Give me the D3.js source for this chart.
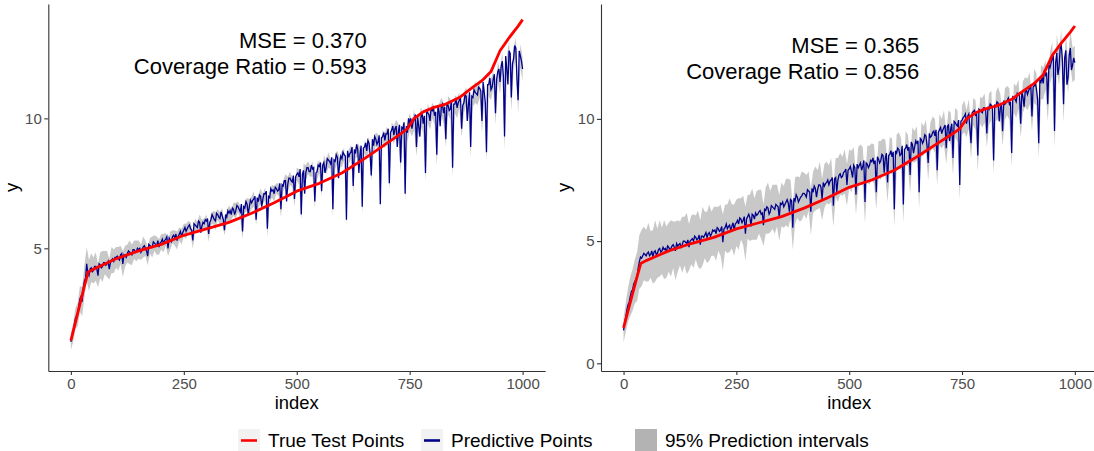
<!DOCTYPE html>
<html>

<head>
  <title>Prediction intervals</title>
  <script src="https://cdn.jsdelivr.net/npm/d3@7"></script>
  <style type="text/css">
    body {
      margin: 0;
      background: #fff;
    }

    svg {
      font-family: "Liberation Sans", Arial, sans-serif;
    }

    .tick text {
      fill: #4d4d4d;
      font-size: 15px;
    }

    .tick line,
    .domain {
      stroke: #333;
      stroke-width: 1.1px;
    }
  </style>
</head>

<body>
  <div id="chartArea"></div>
  <script type="text/javascript">
    // x positions: predictions every 2.5, interval half widths every 5
    let predIndex = d3.range(0, 1000.1, 2.5);
    let bandIndex = d3.range(0, 1001, 5);

    // true test points (same in both panels)
    let trueIdx = [0, 10, 20, 30, 38, 50, 75, 100, 150, 200, 250, 300, 350, 400, 450, 500, 550, 600, 650, 700,
      730, 745, 760, 780, 800, 830, 860, 875, 890, 910, 930, 950, 970, 990, 1000];
    let trueVal = [1.45, 2.15, 2.85, 3.55, 4.08, 4.2, 4.4, 4.6, 4.9, 5.15, 5.5, 5.75, 6.0, 6.35, 6.75, 7.2, 7.5, 7.9, 8.45, 9.05,
      9.4, 9.6, 10.0, 10.25, 10.4, 10.55, 10.8, 11.0, 11.2, 11.45, 11.8, 12.6, 13.1, 13.55, 13.8];

    // left panel predictions (one row = 50 index units)
    let predLeft = [1.4, 1.65, 1.75, 2.05, 2.3, 2.4, 2.45, 2.8, 3.05, 3.15, 2.95, 3.5, 3.75, 3.85, 4.4, 4.05, 3.95, 4.2, 4.25, 4.1,
      4.15, 4.3, 4.3, 4.2, 3.95, 4.4, 4.35, 4.25, 4.3, 4.45, 4.45, 4.35, 4.4, 4.5, 4.2, 4.45, 4.55, 4.6, 4.5, 4.65,
      4.65, 4.7, 4.6, 4.55, 4.75, 4.8, 4.4, 4.75, 4.7, 4.65, 4.8, 4.9, 4.85, 4.8, 4.75, 4.95, 4.95, 4.85, 4.9, 5.0,
      4.95, 5.0, 4.85, 4.95, 5.05, 5.1, 5.0, 4.9, 4.7, 5.15, 5.1, 5.05, 5.05, 5.25, 5.2, 5.15, 5.1, 5.3, 5.05, 5.2,
      5.25, 5.35, 5.2, 5.3, 5.35, 5.45, 5.0, 5.4, 5.3, 5.25, 5.45, 5.5, 5.4, 5.55, 5.3, 5.45, 5.55, 5.65, 5.45, 5.6,
      5.7, 5.8, 5.65, 5.75, 5.85, 5.9, 5.75, 5.7, 5.3, 5.95, 5.9, 5.85, 5.8, 6.05, 6.0, 5.6, 5.85, 6.0, 5.95, 6.1,
      6.05, 6.15, 5.55, 6.0, 6.1, 6.3, 6.2, 6.1, 6.05, 6.35, 6.3, 6.2, 6.15, 6.4, 6.25, 6.1, 5.7, 6.3, 6.2, 6.45,
      6.35, 6.45, 6.3, 6.55, 6.5, 6.3, 6.45, 6.65, 6.6, 6.5, 6.4, 6.7, 5.65, 6.6, 6.55, 6.8, 6.7, 6.3, 6.6, 6.85,
      6.75, 6.85, 6.9, 7.0, 6.1, 6.95, 6.8, 7.05, 7.0, 6.6, 6.9, 7.1, 7.1, 7.2, 5.75, 7.0, 6.95, 7.3, 7.2, 7.25,
      7.1, 7.35, 7.3, 7.2, 7.25, 7.5, 6.5, 7.45, 7.4, 7.6, 7.6, 6.8, 7.45, 7.7, 7.7, 7.6, 7.55, 7.8, 6.9, 7.75,
      7.85, 7.9, 7.75, 8.05, 6.3, 7.85, 8.0, 7.1, 7.9, 8.1, 8.1, 7.95, 7.95, 8.2, 8.05, 8.1, 6.8, 7.9, 7.95, 8.2,
      8.15, 8.3, 7.2, 8.2, 8.3, 7.9, 8.1, 8.45, 8.4, 8.35, 8.25, 8.5, 6.5, 8.4, 8.35, 8.6, 8.5, 7.7, 8.3, 8.55,
      8.45, 8.7, 8.6, 8.55, 6.1, 8.75, 8.5, 8.65, 8.7, 8.9, 7.4, 8.8, 8.65, 9.0, 8.8, 7.9, 8.6, 8.95, 6.6, 8.85,
      8.9, 9.05, 8.75, 9.15, 9.05, 8.6, 7.8, 9.2, 8.95, 9.3, 9.2, 9.0, 9.1, 9.35, 6.7, 9.25, 9.3, 9.45, 9.15, 9.4,
      9.4, 9.6, 7.5, 9.45, 9.55, 9.7, 9.35, 9.6, 9.7, 8.9, 9.5, 9.75, 8.3, 9.65, 9.6, 9.85, 7.1, 9.7, 9.45, 10.0,
      9.85, 10.0, 9.6, 9.85, 9.95, 10.15, 8.9, 10.05, 9.7, 9.3, 10.05, 10.2, 9.8, 10.1, 7.9, 10.3, 10.2, 10.15, 9.9, 10.4,
      10.3, 10.4, 10.1, 10.25, 8.6, 10.5, 10.25, 9.7, 10.45, 10.55, 10.2, 10.45, 9.2, 10.6, 10.5, 10.3, 10.35, 10.7, 8.1, 10.55,
      10.55, 10.75, 10.4, 10.6, 10.7, 10.8, 9.6, 10.5, 10.6, 10.9, 10.85, 9.9, 10.5, 11.0, 8.9, 10.85, 10.8, 11.1, 11.0, 10.95,
      10.9, 11.2, 11.15, 11.05, 9.9, 11.4, 11.0, 10.6, 8.7, 11.3, 11.3, 11.55, 11.1, 11.2, 11.5, 11.7, 10.2, 11.5, 11.8, 11.9,
      11.4, 12.0, 12.2, 11.6, 9.3, 12.4, 11.9, 11.3, 12.6, 12.5, 10.8, 12.1, 12.3, 12.8, 12.7, 11.5, 10.7, 12.6, 12.4, 12.2,
      11.9];
    let hwLeft = [0.3, 0.35, 0.4, 0.45, 0.5, 0.55, 0.6, 0.65, 0.6, 0.55,
      0.5, 0.55, 0.45, 0.5, 0.6, 0.45, 0.5, 0.4, 0.5, 0.45,
      0.4, 0.45, 0.35, 0.5, 0.4, 0.35, 0.45, 0.4, 0.35, 0.4,
      0.35, 0.3, 0.4, 0.3, 0.35, 0.3, 0.4, 0.3, 0.35, 0.3,
      0.3, 0.35, 0.25, 0.3, 0.35, 0.25, 0.3, 0.35, 0.25, 0.3,
      0.25, 0.3, 0.2, 0.25, 0.3, 0.25, 0.2, 0.3, 0.25, 0.2,
      0.25, 0.3, 0.2, 0.25, 0.35, 0.2, 0.25, 0.3, 0.2, 0.25,
      0.3, 0.2, 0.25, 0.3, 0.2, 0.25, 0.3, 0.2, 0.25, 0.3,
      0.25, 0.3, 0.2, 0.25, 0.3, 0.2, 0.25, 0.3, 0.2, 0.25,
      0.3, 0.2, 0.25, 0.3, 0.2, 0.25, 0.3, 0.25, 0.2, 0.3,
      0.25, 0.3, 0.2, 0.25, 0.3, 0.25, 0.2, 0.3, 0.25, 0.3,
      0.25, 0.2, 0.3, 0.25, 0.3, 0.2, 0.25, 0.3, 0.25, 0.2,
      0.3, 0.25, 0.2, 0.3, 0.25, 0.3, 0.2, 0.25, 0.3, 0.25,
      0.25, 0.3, 0.25, 0.2, 0.3, 0.25, 0.3, 0.2, 0.25, 0.3,
      0.3, 0.25, 0.3, 0.35, 0.25, 0.3, 0.35, 0.3, 0.25, 0.35,
      0.35, 0.3, 0.4, 0.35, 0.3, 0.4, 0.35, 0.3, 0.4, 0.35,
      0.3, 0.35, 0.4, 0.3, 0.35, 0.4, 0.3, 0.35, 0.4, 0.35,
      0.35, 0.4, 0.3, 0.35, 0.4, 0.35, 0.3, 0.4, 0.35, 0.4,
      0.4, 0.35, 0.45, 0.4, 0.35, 0.45, 0.4, 0.35, 0.45, 0.4,
      0.45, 0.4, 0.5, 0.45, 0.4, 0.5, 0.45, 0.4, 0.5, 0.45,
      0.45];

    // right panel predictions (one row = 50 index units)
    let predRight = [1.35, 1.7, 1.9, 2.2, 2.4, 2.5, 2.75, 2.95, 3.0, 3.25, 3.35, 3.45, 3.55, 3.9, 4.15, 4.35, 4.3, 4.4, 4.5, 4.45,
      4.4, 4.5, 4.55, 4.4, 4.45, 4.6, 4.35, 4.55, 4.6, 4.45, 4.5, 4.65, 4.7, 4.55, 4.6, 4.75, 4.65, 4.7, 4.55, 4.8,
      4.75, 4.65, 4.7, 4.8, 4.85, 4.75, 4.6, 4.9, 4.8, 4.85, 4.9, 4.75, 4.85, 5.0, 5.0, 4.95, 4.9, 5.05, 4.75, 5.0,
      5.05, 5.1, 5.0, 5.2, 5.15, 5.05, 5.1, 5.25, 4.85, 5.2, 5.2, 5.15, 5.25, 5.35, 5.15, 5.3, 5.35, 5.2, 5.3, 5.45,
      5.4, 5.45, 5.3, 5.55, 5.5, 5.4, 5.45, 5.6, 4.95, 5.5, 5.55, 5.7, 5.5, 5.6, 5.65, 5.45, 5.6, 5.75, 5.45, 5.7,
      5.75, 5.85, 5.7, 5.95, 5.9, 5.75, 5.85, 6.0, 5.3, 5.9, 6.0, 6.1, 5.95, 5.6, 6.1, 6.05, 5.9, 6.15, 6.05, 6.1,
      6.2, 6.25, 6.1, 6.15, 5.65, 6.3, 6.25, 6.4, 6.35, 6.1, 6.2, 6.45, 6.4, 6.35, 6.3, 6.5, 6.45, 6.4, 5.95, 6.55,
      6.5, 6.6, 6.4, 6.5, 6.6, 6.7, 6.55, 6.2, 6.7, 6.65, 5.55, 6.75, 6.65, 6.9, 6.8, 6.6, 6.7, 6.8, 6.85, 6.95,
      6.95, 6.9, 6.8, 7.1, 7.05, 7.0, 6.2, 7.15, 7.0, 7.25, 7.15, 6.8, 7.1, 7.3, 7.3, 7.2, 6.7, 7.4, 7.25, 7.35,
      7.4, 7.5, 7.3, 7.45, 7.5, 7.6, 6.45, 7.55, 7.6, 7.0, 7.5, 7.7, 7.75, 7.6, 7.65, 7.8, 7.85, 7.95, 7.3, 7.9,
      7.95, 8.05, 7.85, 7.6, 8.1, 8.0, 6.9, 8.15, 8.0, 8.1, 8.2, 7.9, 8.05, 8.3, 6.6, 8.2, 8.15, 8.0, 8.1, 8.3,
      8.25, 8.4, 8.15, 8.3, 7.0, 8.45, 8.35, 8.2, 8.3, 8.55, 8.5, 7.8, 8.4, 8.6, 7.4, 8.5, 8.55, 8.7, 8.45, 8.65,
      6.3, 8.7, 8.6, 8.8, 8.75, 8.5, 8.55, 8.9, 6.5, 8.75, 8.8, 8.95, 8.7, 8.85, 7.7, 9.05, 8.95, 8.6, 8.85, 9.1,
      9.0, 9.1, 7.0, 9.2, 9.15, 9.0, 9.1, 9.35, 9.3, 8.9, 8.2, 9.4, 9.25, 9.3, 9.45, 9.5, 9.3, 9.55, 7.9, 9.45,
      9.55, 9.65, 9.4, 9.55, 9.65, 9.75, 8.8, 9.7, 9.75, 9.1, 9.6, 9.8, 8.4, 9.9, 9.85, 9.75, 9.7, 9.95, 7.3, 9.9,
      9.95, 10.05, 10.1, 10.2, 9.8, 10.1, 10.2, 9.6, 9.0, 10.25, 10.3, 10.35, 10.15, 10.2, 8.5, 10.4, 10.35, 10.3, 10.25, 10.45,
      10.45, 10.35, 9.4, 10.5, 10.4, 10.6, 10.55, 10.4, 8.3, 10.55, 10.5, 10.7, 10.65, 9.9, 10.45, 10.6, 9.5, 10.75, 10.6, 10.65,
      10.75, 10.85, 10.6, 10.7, 8.6, 10.9, 10.85, 10.8, 10.7, 11.05, 11.0, 10.95, 9.8, 11.1, 10.9, 10.5, 11.1, 11.2, 11.0, 11.15,
      11.25, 11.4, 10.1, 11.3, 11.35, 11.5, 11.2, 10.8, 9.0, 11.6, 11.5, 11.7, 11.45, 12.0, 11.8, 11.9, 10.6, 12.2, 12.1, 12.3,
      12.45, 12.6, 9.5, 12.3, 12.7, 11.8, 12.1, 12.9, 13.0, 12.4, 10.6, 12.5, 12.8, 11.4, 11.7, 12.6, 12.9, 12.0, 12.2, 12.5,
      12.3];
    let hwRight = [0.5, 0.6, 0.7, 0.8, 0.85, 0.9, 1.0, 1.1, 1.15, 1.1,
      1.05, 1.2, 0.95, 1.1, 1.25, 1.0, 1.15, 0.95, 1.2, 1.05,
      1.0, 1.15, 0.95, 1.2, 1.05, 0.9, 1.15, 1.0, 1.25, 0.95,
      1.0, 1.1, 0.9, 1.15, 1.0, 1.2, 0.95, 1.05, 1.15, 0.9,
      1.0, 1.1, 0.9, 1.05, 1.15, 0.95, 1.0, 1.1, 0.9, 1.05,
      0.95, 1.05, 0.85, 1.0, 1.1, 0.9, 0.95, 1.05, 0.85, 1.0,
      0.9, 1.0, 0.85, 0.95, 1.05, 0.85, 0.9, 1.0, 0.85, 0.95,
      0.9, 0.85, 0.95, 1.0, 0.8, 0.9, 0.95, 0.85, 0.9, 1.0,
      0.85, 0.9, 0.8, 0.95, 0.85, 0.9, 0.8, 0.95, 0.85, 0.9,
      0.85, 0.8, 0.9, 0.85, 0.8, 0.9, 0.85, 0.8, 0.9, 0.85,
      0.8, 0.85, 0.75, 0.8, 0.85, 0.75, 0.8, 0.85, 0.75, 0.8,
      0.75, 0.8, 0.7, 0.75, 0.8, 0.7, 0.75, 0.8, 0.7, 0.75,
      0.7, 0.75, 0.7, 0.65, 0.75, 0.7, 0.65, 0.75, 0.7, 0.65,
      0.7, 0.65, 0.7, 0.6, 0.65, 0.7, 0.6, 0.65, 0.7, 0.6,
      0.65, 0.6, 0.7, 0.65, 0.6, 0.65, 0.7, 0.6, 0.65, 0.6,
      0.6, 0.65, 0.55, 0.6, 0.65, 0.55, 0.6, 0.65, 0.55, 0.6,
      0.6, 0.55, 0.65, 0.6, 0.55, 0.6, 0.65, 0.55, 0.6, 0.65,
      0.6, 0.65, 0.55, 0.6, 0.65, 0.6, 0.55, 0.65, 0.6, 0.65,
      0.65, 0.6, 0.7, 0.65, 0.6, 0.7, 0.65, 0.6, 0.7, 0.65,
      0.7, 0.65, 0.75, 0.7, 0.65, 0.75, 0.7, 0.65, 0.75, 0.7,
      0.7];

    let xTicks = [0, 250, 500, 750, 1000];
    let yTicksLeft = [5, 10];
    let yTicksRight = [0, 5, 10];
    let mseLabels = ['MSE = 0.370', 'MSE = 0.365'];
    let coverageLabels = ['Coverage Ratio = 0.593', 'Coverage Ratio = 0.856'];
    let legendLabels = ['True Test Points', 'Predictive Points', '95% Prediction intervals'];

    let w = 1094;
    let h = 451;
    let plotTop = 4;
    let plotBottom = 371;

    let svg = d3.select('#chartArea').append('svg')
      .attr('width', w)
      .attr('height', h);

    let panels = [
      { left: 48.3, right: 545.2, yDomain: [0.28, 14.4], yTicks: yTicksLeft, pred: predLeft, hw: hwLeft, yLabelX: 17.5 },
      { left: 601, right: 1097.4, yDomain: [-0.315, 14.7], yTicks: yTicksRight, pred: predRight, hw: hwRight, yLabelX: 570 }
    ];

    panels.forEach((p, k) => {
      let xScale = d3.scaleLinear()
        .domain([-50, 1050])
        .range([p.left, p.right]);

      let yScale = d3.scaleLinear()
        .domain(p.yDomain)
        .range([plotBottom, plotTop]);

      let g = svg.append('g');

      // interval rows: prediction at the same index plus/minus the half width
      let bandRows = bandIndex.map((x, i) => ({ x: x, y: p.pred[2 * i], hw: p.hw[i] }));
      let predRows = predIndex.map((x, i) => ({ x: x, y: p.pred[i] }));

      let band = d3.area()
        .x(d => xScale(d.x))
        .y0(d => yScale(d.y - d.hw))
        .y1(d => yScale(d.y + d.hw));

      g.append('path')
        .datum(bandRows)
        .attr('d', band)
        .attr('fill', '#b3b3b3')
        .attr('fill-opacity', 0.72);

      let predLine = d3.line()
        .x(d => xScale(d.x))
        .y(d => yScale(d.y));

      g.append('path')
        .datum(predRows)
        .attr('d', predLine)
        .attr('fill', 'none')
        .attr('stroke', '#00008b')
        .attr('stroke-width', 1.3);

      let trueLine = d3.line()
        .x((d, i) => xScale(trueIdx[i]))
        .y(d => yScale(d));

      g.append('path')
        .datum(trueVal)
        .attr('d', trueLine)
        .attr('fill', 'none')
        .attr('stroke', '#ff0000')
        .attr('stroke-width', 2.8)
        .attr('stroke-linejoin', 'round');

      g.append('g')
        .attr('transform', `translate(0,${plotBottom})`)
        .call(d3.axisBottom(xScale).tickValues(xTicks).tickFormat(d3.format('d'))
          .tickSize(4).tickSizeOuter(0).tickPadding(3));

      g.append('g')
        .attr('transform', `translate(${p.left},0)`)
        .call(d3.axisLeft(yScale).tickValues(p.yTicks).tickSize(4).tickSizeOuter(0).tickPadding(2.5));

      g.append('text')
        .attr('x', (p.left + p.right) / 2)
        .attr('y', 409)
        .attr('text-anchor', 'middle')
        .attr('font-size', '18.4px')
        .text('index');

      g.append('text')
        .attr('transform', `translate(${p.yLabelX},${(plotTop + plotBottom) / 2}) rotate(-90)`)
        .attr('text-anchor', 'middle')
        .attr('font-size', '18.4px')
        .text('y');

      g.append('text')
        .attr('x', xScale(655))
        .attr('y', yScale(12.7))
        .attr('text-anchor', 'end')
        .attr('font-size', '22px')
        .text(mseLabels[k]);

      g.append('text')
        .attr('x', xScale(655))
        .attr('y', yScale(12.7) + 26)
        .attr('text-anchor', 'end')
        .attr('font-size', '22px')
        .text(coverageLabels[k]);
    });

    // legend
    let legendX = [238, 421, 635];
    let legend = svg.append('g');
    legendLabels.forEach((label, i) => {
      let kx = legendX[i];
      legend.append('rect')
        .attr('x', kx)
        .attr('y', 429)
        .attr('width', 22)
        .attr('height', 23)
        .attr('fill', i === 2 ? '#b3b3b3' : '#f2f2f2');
      if (i < 2) {
        legend.append('line')
          .attr('x1', kx + 3)
          .attr('x2', kx + 19)
          .attr('y1', 440.5)
          .attr('y2', 440.5)
          .attr('stroke', i === 0 ? '#ff0000' : '#00008b')
          .attr('stroke-width', 2.6);
      }
      legend.append('text')
        .attr('x', kx + 30)
        .attr('y', 447)
        .attr('font-size', '19px')
        .text(label);
    });
  </script>
</body>

</html>
